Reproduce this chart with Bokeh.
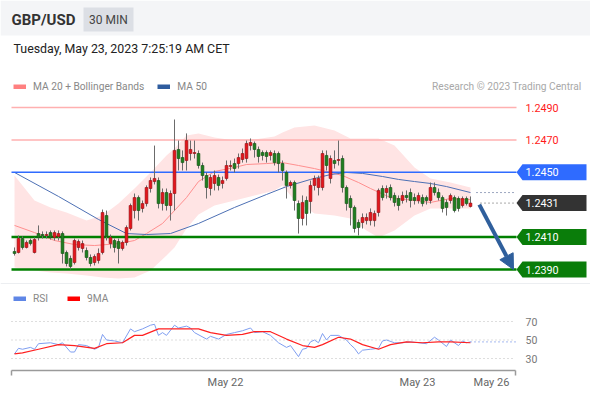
from bokeh.plotting import figure
from bokeh.models import (Range1d, Label, BoxAnnotation, Arrow, NormalHead, Legend,
                          LegendItem, FixedTicker, ColumnDataSource)
from bokeh.layouts import column
from bokeh.embed import file_html
from bokeh.resources import INLINE
from bokeh.core.properties import value

# ---------------- data (GBP/USD, 30 min candles) ----------------
open_ = [1.24011, 1.24005, 1.24091, 1.24036, 1.24079, 1.24005, 1.24122, 1.24116, 1.24110, 1.24128,
         1.24098, 1.24104, 1.24122, 1.24005, 1.23968, 1.23943, 1.24036, 1.24030, 1.24017, 1.23974,
         1.23943, 1.23956, 1.24005, 1.24233, 1.24060, 1.24079, 1.24073, 1.24030, 1.24067, 1.24153,
         1.24264, 1.24344, 1.24277, 1.24307, 1.24400, 1.24443, 1.24449, 1.24307, 1.24375, 1.24295,
         1.24369, 1.24641, 1.24591, 1.24573, 1.24616, 1.24616, 1.24616, 1.24542, 1.24480, 1.24400,
         1.24431, 1.24468, 1.24431, 1.24462, 1.24536, 1.24554, 1.24554, 1.24579, 1.24585, 1.24665,
         1.24678, 1.24641, 1.24622, 1.24622, 1.24604, 1.24616, 1.24616, 1.24554, 1.24499, 1.24419,
         1.24437, 1.24307, 1.24215, 1.24326, 1.24320, 1.24419, 1.24406, 1.24406, 1.24604, 1.24462,
         1.24573, 1.24573, 1.24585, 1.24406, 1.24338, 1.24283, 1.24190, 1.24190, 1.24202, 1.24202,
         1.24202, 1.24252, 1.24400, 1.24375, 1.24406, 1.24357, 1.24338, 1.24326, 1.24357, 1.24375,
         1.24344, 1.24326, 1.24344, 1.24344, 1.24326, 1.24406, 1.24375, 1.24344, 1.24314, 1.24326,
         1.24344, 1.24338, 1.24295, 1.24338, 1.24289]
high = [1.24036, 1.24110, 1.24104, 1.24079, 1.24091, 1.24098, 1.24172, 1.24135, 1.24135, 1.24141,
        1.24141, 1.24141, 1.24135, 1.24017, 1.23986, 1.24091, 1.24085, 1.24079, 1.24036, 1.23993,
        1.23993, 1.24030, 1.24270, 1.24264, 1.24116, 1.24091, 1.24091, 1.24079, 1.24172, 1.24307,
        1.24369, 1.24357, 1.24326, 1.24419, 1.24468, 1.24665, 1.24468, 1.24400, 1.24400, 1.24388,
        1.24826, 1.24696, 1.24635, 1.24740, 1.24696, 1.24696, 1.24635, 1.24560, 1.24499, 1.24486,
        1.24511, 1.24486, 1.24474, 1.24573, 1.24573, 1.24585, 1.24616, 1.24647, 1.24696, 1.24709,
        1.24690, 1.24659, 1.24635, 1.24635, 1.24635, 1.24635, 1.24628, 1.24573, 1.24511, 1.24449,
        1.24449, 1.24326, 1.24357, 1.24351, 1.24449, 1.24480, 1.24480, 1.24635, 1.24635, 1.24604,
        1.24635, 1.24696, 1.24604, 1.24419, 1.24357, 1.24295, 1.24209, 1.24246, 1.24246, 1.24277,
        1.24264, 1.24400, 1.24419, 1.24419, 1.24425, 1.24375, 1.24357, 1.24381, 1.24388, 1.24400,
        1.24369, 1.24375, 1.24363, 1.24357, 1.24437, 1.24437, 1.24400, 1.24357, 1.24332, 1.24369,
        1.24357, 1.24351, 1.24351, 1.24351, 1.24351]
low = [1.23986, 1.23999, 1.24023, 1.24030, 1.24048, 1.23999, 1.24079, 1.24091, 1.24091, 1.24085,
       1.24079, 1.24079, 1.23937, 1.23919, 1.23900, 1.23931, 1.24017, 1.24005, 1.23956, 1.23919,
       1.23925, 1.23937, 1.23993, 1.24079, 1.24030, 1.24005, 1.23937, 1.24017, 1.24048, 1.24141,
       1.24215, 1.24202, 1.24252, 1.24289, 1.24375, 1.24425, 1.24277, 1.24264, 1.24264, 1.24202,
       1.24264, 1.24511, 1.24511, 1.24511, 1.24573, 1.24585, 1.24523, 1.24449, 1.24338, 1.24357,
       1.24388, 1.24388, 1.24400, 1.24449, 1.24511, 1.24499, 1.24523, 1.24560, 1.24560, 1.24635,
       1.24591, 1.24560, 1.24573, 1.24560, 1.24573, 1.24542, 1.24499, 1.24449, 1.24338, 1.24400,
       1.24264, 1.24122, 1.24172, 1.24172, 1.24246, 1.24388, 1.24357, 1.24388, 1.24511, 1.24431,
       1.24523, 1.24542, 1.24375, 1.24264, 1.24172, 1.24128, 1.24110, 1.24153, 1.24178, 1.24172,
       1.24165, 1.24227, 1.24326, 1.24338, 1.24326, 1.24289, 1.24264, 1.24307, 1.24314, 1.24283,
       1.24301, 1.24307, 1.24289, 1.24301, 1.24307, 1.24357, 1.24326, 1.24252, 1.24233, 1.24307,
       1.24252, 1.24258, 1.24283, 1.24295, 1.24283]
close = [1.23999, 1.24091, 1.24036, 1.24067, 1.24060, 1.24085, 1.24098, 1.24110, 1.24116, 1.24098,
         1.24128, 1.24122, 1.23999, 1.23937, 1.23919, 1.24079, 1.24073, 1.24060, 1.23974, 1.23937,
         1.23980, 1.23999, 1.24252, 1.24104, 1.24098, 1.24036, 1.24030, 1.24067, 1.24159, 1.24295,
         1.24344, 1.24264, 1.24307, 1.24406, 1.24449, 1.24462, 1.24307, 1.24375, 1.24295, 1.24369,
         1.24635, 1.24585, 1.24560, 1.24696, 1.24641, 1.24622, 1.24542, 1.24480, 1.24406, 1.24468,
         1.24480, 1.24419, 1.24449, 1.24542, 1.24542, 1.24523, 1.24591, 1.24616, 1.24678, 1.24684,
         1.24641, 1.24598, 1.24604, 1.24598, 1.24622, 1.24560, 1.24554, 1.24511, 1.24419, 1.24437,
         1.24326, 1.24215, 1.24314, 1.24246, 1.24419, 1.24462, 1.24462, 1.24616, 1.24542, 1.24585,
         1.24554, 1.24579, 1.24406, 1.24307, 1.24283, 1.24153, 1.24159, 1.24221, 1.24221, 1.24252,
         1.24246, 1.24388, 1.24344, 1.24400, 1.24344, 1.24314, 1.24295, 1.24357, 1.24344, 1.24326,
         1.24326, 1.24357, 1.24307, 1.24326, 1.24406, 1.24375, 1.24344, 1.24277, 1.24283, 1.24357,
         1.24264, 1.24277, 1.24338, 1.24307, 1.24310]

ma20_idx = [0, 5, 10, 15, 20, 26, 30, 33, 37, 40, 43, 46, 50, 55, 58, 63, 67, 71, 75, 79,
            82, 86, 89, 94, 98, 104, 109, 114]
ma20 = [1.24172, 1.24128, 1.24079, 1.24054, 1.24048, 1.24060, 1.24079, 1.24122, 1.24184, 1.24264,
        1.24344, 1.24443, 1.24505, 1.24530, 1.24548, 1.24554, 1.24560, 1.24542, 1.24523, 1.24499,
        1.24480, 1.24437, 1.24400, 1.24344, 1.24332, 1.24314, 1.24338, 1.24332]

ma50_idx = [0, 11, 21, 28, 33, 39, 46, 55, 63, 68, 74, 79, 83, 87, 92, 96, 100, 104, 108, 114]
ma50 = [1.24499, 1.24351, 1.24209, 1.24122, 1.24116, 1.24122, 1.24184, 1.24283, 1.24363, 1.24412,
        1.24456, 1.24486, 1.24499, 1.24493, 1.24474, 1.24456, 1.24443, 1.24431, 1.24412, 1.24375]

band_idx = [0, 5, 9, 13, 18, 22, 26, 30, 34, 38, 40, 43, 46, 50, 55, 60, 65, 67, 70, 75,
            80, 84, 88, 91, 95, 100, 104, 109, 114]
band_upper = [1.24480, 1.24326, 1.24283, 1.24252, 1.24202, 1.24233, 1.24307, 1.24400, 1.24499, 1.24604,
              1.24647, 1.24727, 1.24740, 1.24715, 1.24696, 1.24702, 1.24721, 1.24746, 1.24777, 1.24789,
              1.24758, 1.24709, 1.24709, 1.24709, 1.24665, 1.24530, 1.24462, 1.24437, 1.24406]
band_lower = [1.23912, 1.23894, 1.23881, 1.23875, 1.23863, 1.23851, 1.23844, 1.23851, 1.23894, 1.23986,
              1.24036, 1.24153, 1.24240, 1.24295, 1.24326, 1.24357, 1.24388, 1.24419, 1.24326, 1.24246,
              1.24233, 1.24215, 1.24141, 1.24098, 1.24141, 1.24233, 1.24277, 1.24277, 1.24277]

resistances = [1.2490, 1.2470]
pivot = 1.2450
last_price = 1.2431
supports = [1.2410, 1.2390]

rsi_idx = [0, 1, 2, 4, 5, 6, 9, 11, 12, 14, 15, 16, 18, 20, 21, 22, 23, 25, 27, 29,
           30, 32, 34, 35, 36, 37, 38, 40, 41, 43, 44, 45, 48, 49, 51, 53, 55, 57, 59, 60,
           62, 64, 66, 68, 69, 71, 72, 73, 74, 75, 76, 77, 78, 79, 81, 83, 84, 85, 86, 87,
           89, 91, 92, 93, 95, 97, 99, 101, 103, 105, 106, 108, 109, 111, 112, 113, 114]
rsi = [35, 41, 40, 42, 40, 46, 47, 45, 47, 37, 37, 45, 44, 40, 42, 56, 50, 49, 47, 62,
       59, 62, 66, 67, 55, 58, 55, 66, 63, 65, 63, 58, 51, 54, 51, 56, 58, 60, 63, 58,
       59, 55, 47, 42, 44, 32, 40, 41, 48, 50, 47, 57, 50, 55, 55, 50, 45, 41, 35, 39,
       40, 41, 49, 50, 47, 47, 48, 47, 46, 53, 50, 43, 50, 44, 49, 47, 48]
ma9_idx = [0, 2, 6, 11, 15, 20, 23, 27, 30, 32, 36, 40, 46, 49, 53, 57, 60, 64, 68, 72,
           75, 77, 81, 84, 87, 91, 94, 98, 102, 106, 109, 114]
ma9 = [35, 36, 40, 45, 44, 41, 46, 47, 55, 55, 62, 62, 62, 58, 55, 56, 59, 59, 51, 44,
       42, 45, 53, 51, 45, 40, 45, 48, 47, 48, 48, 47]
rsi_levels = [30, 50, 70]

tick_pos = [52.75, 100.75, 119.25]
tick_labels = ["May 22", "May 23", "May 26"]

# ---------------- layout / styles ----------------
FONT = "Roboto"
W = 590
H_MAIN = 284
H_RSI = 115
RSI_AXIS_H = 24
PX_X = 4.0          # pixels per candle
PX_Y = 16200.0      # pixels per price unit
X0 = -14 / PX_X     # index at left page edge
X1 = X0 + W / PX_X
Y_TOP = supports[-1] + 269 / PX_Y
Y_BOT = Y_TOP - H_MAIN / PX_Y


def fx(px):
    return X0 + px / PX_X


def fy(py):
    return Y_TOP - py / PX_Y


UP_FILL, UP_LINE = "#e4161c", "#8e1014"
DN_FILL, DN_LINE = "#1f7f1f", "#144d14"
WICK = "#6b6b6b"
BAND = "#ffe4e4"
MA20_C = "#ff8f8f"
MA50_C = "#4d70b4"
RES_C = "#ffb0b0"
PIV_C = "#2f6bff"
SUP_C = "#0a7d0a"
LAST_C = "#333333"
ARROW_C = "#2f5f9c"

p = figure(width=W, height=H_MAIN, x_range=Range1d(X0, X1),
           y_range=Range1d(Y_BOT, Y_TOP), output_backend="svg", toolbar_location=None,
           x_axis_location=None, y_axis_location=None, min_border=0,
           outline_line_color=None, background_fill_color="white", border_fill_color="white")
p.grid.visible = False

# header band
p.add_layout(BoxAnnotation(left=X0, right=X1, bottom=fy(35), top=Y_TOP,
                           fill_color="#f4f5f7", fill_alpha=1, line_color=None, level="underlay"))
p.add_layout(BoxAnnotation(left=fx(83), right=fx(133), bottom=fy(31), top=fy(7),
                           fill_color="#dcdfe5", fill_alpha=1, line_color=None, level="underlay"))
# separator below price panel
p.add_layout(BoxAnnotation(left=X0, right=X1, bottom=Y_BOT, top=fy(282.5),
                           fill_color="#eceef1", fill_alpha=1, line_color=None, level="underlay"))

p.add_layout(Label(x=fx(11), y=fy(19), text="GBP/USD", text_font=FONT, text_font_style="bold",
                   text_font_size="15px", text_color="#333333", text_baseline="middle"))
p.add_layout(Label(x=fx(108), y=fy(19), text="30 MIN", text_font=FONT, text_font_size="12px",
                   text_color="#444444", text_baseline="middle", text_align="center"))
p.add_layout(Label(x=fx(13), y=fy(48), text="Tuesday, May 23, 2023 7:25:19 AM CET", text_font=FONT,
                   text_font_size="12.4px", text_color="#222222", text_baseline="middle"))
p.add_layout(Label(x=fx(581), y=fy(86), text="Research \u00a9 2023 Trading Central", text_font=FONT,
                   text_font_size="10.2px", text_color="#a8a8a8", text_baseline="middle",
                   text_align="right"))

# Bollinger band + MAs
p.varea(x=band_idx, y1=band_lower, y2=band_upper, fill_color=BAND, fill_alpha=1)
p.line(ma20_idx, ma20, line_color=MA20_C, line_width=1)
p.line(ma50_idx, ma50, line_color=MA50_C, line_width=1)

# level lines
lx0, lx1 = fx(11), fx(516)
p.segment(x0=[lx0] * len(resistances), x1=[lx1] * len(resistances), y0=resistances, y1=resistances,
          line_color=RES_C, line_width=1.5)
p.segment(x0=[lx0], x1=[lx1], y0=[pivot], y1=[pivot], line_color=PIV_C, line_width=1.5)
p.segment(x0=[lx0] * len(supports), x1=[lx1] * len(supports), y0=supports, y1=supports,
          line_color="#008000", line_width=2.5)

# candles
n = len(close)
idx = list(range(n))
is_up = [c >= o for o, c in zip(open_, close)]
src = ColumnDataSource(dict(
    x=idx, h=high, l=low,
    top=[max(o, c) for o, c in zip(open_, close)],
    bot=[min(o, c) for o, c in zip(open_, close)],
    fill=[UP_FILL if u else DN_FILL for u in is_up],
    edge=[UP_LINE if u else DN_LINE for u in is_up]))
p.segment(x0="x", x1="x", y0="h", y1="l", line_color=WICK, line_width=1, source=src)
p.vbar(x="x", width=0.7, top="top", bottom="bot", fill_color="fill", line_color="edge",
       line_width=0.6, source=src)

# dotted extensions
p.segment(x0=[n + 0.5], x1=[lx1], y0=[ma50[-1]], y1=[ma50[-1]], line_color="#3a4f80",
          line_width=1, line_dash="1 3")
p.segment(x0=[n + 1.5], x1=[lx1], y0=[last_price], y1=[last_price], line_color="#555555",
          line_width=1, line_dash="1 3")

# tags
tag_h = 8 / PX_Y
tx0, tx1, tx2 = fx(516), fx(522), fx(586)


def tag_shape(v):
    return [tx0, tx1, tx2, tx2, tx1], [v, v + tag_h, v + tag_h, v - tag_h, v - tag_h]


tag_vals = [pivot, last_price] + supports
tag_cols = [PIV_C, LAST_C] + [SUP_C] * len(supports)
shapes = [tag_shape(v) for v in tag_vals]
p.patches(xs=[s[0] for s in shapes], ys=[s[1] for s in shapes], fill_color=tag_cols, line_color=None)
p.text(x=[fx(525)] * len(tag_vals), y=tag_vals, text=[f"{v:.4f}" for v in tag_vals],
       text_color="white", text_font=value(FONT), text_font_size="10.8px", text_baseline="middle")
p.text(x=[fx(525)] * len(resistances), y=resistances, text=[f"{v:.4f}" for v in resistances],
       text_color="#ff1a1a", text_font=value(FONT), text_font_size="10.8px", text_baseline="middle")

# arrow to target
p.add_layout(Arrow(end=NormalHead(size=15, fill_color=ARROW_C, line_color=ARROW_C),
                   x_start=n + 1.2, y_start=last_price - 1.5 / PX_Y,
                   x_end=fx(513), y_end=supports[-1],
                   line_color=ARROW_C, line_width=4))

# legend (main) - swatches from hidden thick copies of the MA lines
r_bb = p.line(ma20_idx, ma20, line_color="#ff8080", line_width=5, visible=False)
r_m50 = p.line(ma50_idx, ma50, line_color="#2f5c9e", line_width=5, visible=False)
leg = Legend(items=[LegendItem(label="MA 20 + Bollinger Bands", renderers=[r_bb]),
                    LegendItem(label="MA 50", renderers=[r_m50])],
             location=(13, H_MAIN - 86 - 6.5), orientation="horizontal",
             glyph_width=13, glyph_height=5, label_height=13, label_standoff=7, spacing=13,
             padding=0, margin=0, border_line_color=None, background_fill_alpha=0,
             click_policy="none",
             label_text_font=FONT, label_text_font_size="10.2px", label_text_color="#888888")
p.add_layout(leg)

# ---------------- RSI panel ----------------
RSI_PX = 0.925
FR_TOP = 284
FR_H = H_RSI - RSI_AXIS_H
RSI_HI = 70 + (321 - FR_TOP) / RSI_PX
RSI_LO = RSI_HI - FR_H / RSI_PX


def gy(py):
    return RSI_HI - (py - FR_TOP) / RSI_PX


q = figure(width=W, height=H_RSI, x_range=Range1d(X0, X1), y_range=Range1d(RSI_LO, RSI_HI),
           output_backend="svg", toolbar_location=None, y_axis_location=None,
           x_axis_location="below", min_border_left=0, min_border_right=0, min_border_top=0,
           min_border_bottom=RSI_AXIS_H, outline_line_color=None)
q.grid.visible = False

# dotted RSI levels + labels
gx0, gx1 = fx(11), fx(515)
q.segment(x0=[gx0] * 3, x1=[gx1] * 3, y0=rsi_levels, y1=rsi_levels, line_color="#bdbdbd",
          line_width=1, line_dash="1 3")
q.text(x=[fx(525)] * 3, y=rsi_levels, text=[str(v) for v in rsi_levels], text_color="#777777",
       text_font=value(FONT), text_font_size="10.5px", text_baseline="middle")

# time axis baseline with end ticks
q.segment(x0=[gx0], x1=[gx1], y0=[gy(370)], y1=[gy(370)], line_color="#9a9a9a", line_width=1.5)
q.segment(x0=[gx0, gx1], x1=[gx0, gx1], y0=[gy(370)] * 2, y1=[gy(376)] * 2,
          line_color="#9a9a9a", line_width=1.5)

q.xaxis.ticker = FixedTicker(ticks=tick_pos)
q.xaxis.major_label_overrides = {t: s for t, s in zip(tick_pos, tick_labels)}
q.xaxis.axis_line_color = None
q.xaxis.major_tick_line_color = None
q.xaxis.minor_tick_line_color = None
q.xaxis.major_tick_in = 0
q.xaxis.major_tick_out = 0
q.xaxis.major_label_standoff = 0
q.xaxis.major_label_text_font = FONT
q.xaxis.major_label_text_font_size = "11px"
q.xaxis.major_label_text_color = "#666666"

q.line(rsi_idx, rsi, line_color="#7f9ef0", line_width=1)
q.line(ma9_idx, ma9, line_color="#ff2020", line_width=1.2)
q.line([rsi_idx[-1], gx1], [rsi[-1], rsi[-1]], line_color="#6f8fe8", line_width=1.2,
       line_dash="1 3")

s_rsi = q.line(rsi_idx, rsi, line_color="#5f86e6", line_width=5, visible=False)
s_ma9 = q.line(ma9_idx, ma9, line_color="#ff0000", line_width=5, visible=False)
leg2 = Legend(items=[LegendItem(label="RSI", renderers=[s_rsi]),
                     LegendItem(label="9MA", renderers=[s_ma9])],
              location=(13, FR_H - (298 - FR_TOP) - 6.5), orientation="horizontal",
              glyph_width=13, glyph_height=5, label_height=13, label_standoff=7, spacing=14,
              padding=0, margin=0, border_line_color=None, background_fill_alpha=0,
              click_policy="none",
              label_text_font=FONT, label_text_font_size="10.2px", label_text_color="#888888")
q.add_layout(leg2)

layout = column(p, q, spacing=0)
open("out.html", "w").write(file_html(layout, INLINE))
